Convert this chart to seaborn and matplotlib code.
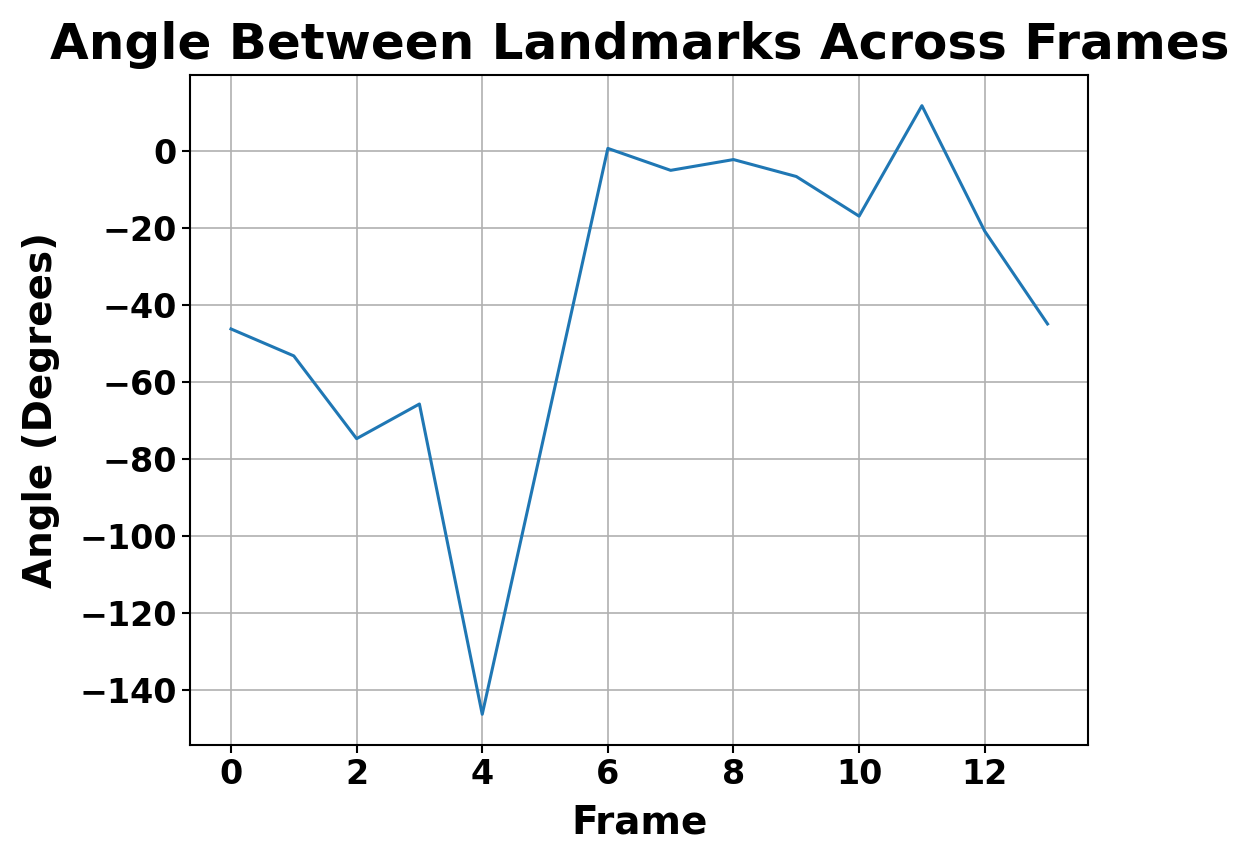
import pandas as pd
from matplotlib import pyplot as plt
import seaborn as sns

frames = list(range(14))
angles = [-46.1, -53.1, -74.6, -65.6, -146.2, -72.7, 0.8, -4.9, -2.1, -6.5, -16.8, 11.9, -20.7, -44.8]

df = pd.DataFrame({"Frame": frames, "Angle": angles})

plt.rcParams['font.family'] = ['DejaVu Sans']
plt.rcParams['font.weight'] = 'bold'

fig = plt.figure(figsize=(12.51, 8.55), dpi=100)
ax = fig.add_axes([0.152, 0.129, 0.718, 0.783])
sns.lineplot(data=df, x="Frame", y="Angle", color="#1f77b4", linewidth=2.2, ax=ax)

ax.set_title("Angle Between Landmarks Across Frames", fontsize=36, fontweight="bold", pad=12)
ax.set_xlabel("Frame", fontsize=28, fontweight="bold", labelpad=9)
ax.set_ylabel("Angle (Degrees)", fontsize=28, fontweight="bold", labelpad=14)
ax.set_xticks([0, 2, 4, 6, 8, 10, 12])
ax.tick_params(labelsize=24, width=1.5, length=6)
for lbl in ax.get_xticklabels() + ax.get_yticklabels():
    lbl.set_fontweight("bold")
for s in ax.spines.values():
    s.set_linewidth(1.5)
ax.grid(True, color="#b0b0b0", linewidth=1.2)

plt.savefig("out.png", dpi=100)
plt.close()
